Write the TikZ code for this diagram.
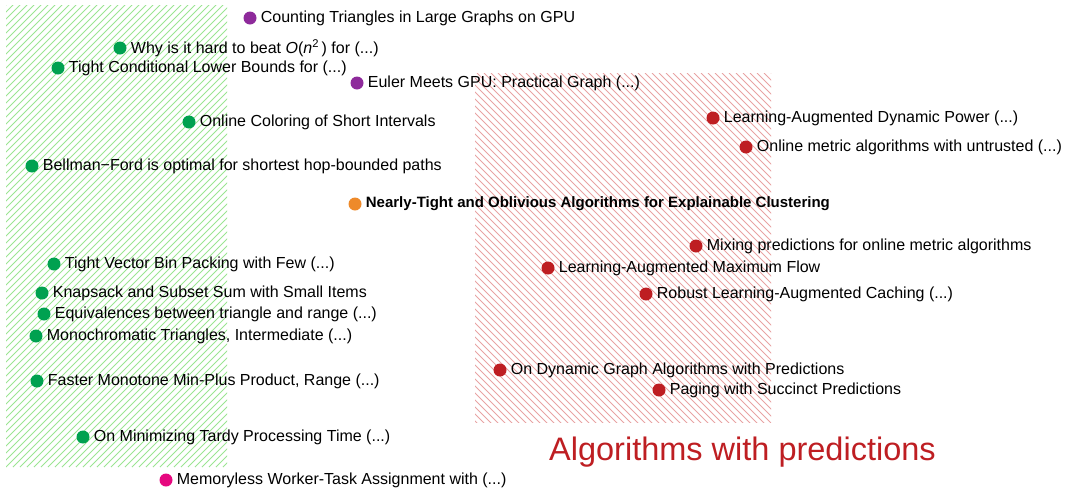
\documentclass[tikz,border=0pt]{standalone}
\usepackage{fontspec}
\setmainfont{Liberation Sans}
\definecolor{grn}{HTML}{00A150}
\definecolor{prp}{HTML}{8E2A9B}
\definecolor{rdd}{HTML}{BE1E22}
\definecolor{org}{HTML}{EE8A2A}
\definecolor{mag}{HTML}{E6087F}
\definecolor{grnhatch}{HTML}{9BE592}
\definecolor{rdhatch}{HTML}{E8A3A3}
\tikzset{
  dot/.style={circle,fill=#1,inner sep=0pt,minimum size=13pt},
  ptitle/.style={anchor=west,inner sep=0pt,font=\fontsize{16}{18}\selectfont},
  ghatch/.style={grnhatch,line width=0.9pt},
  rhatch/.style={rdhatch,line width=0.8pt}
}
\newcommand\paperdot[6]{%
  \node[dot=#2] (#1) at (#3,#4) {};
  \node[ptitle,#6] (#1t) at ([xshift=4pt]#1.east) {#5};}
\begin{document}
\begin{tikzpicture}[x=1pt,y=-1pt]
\useasboundingbox (0,0) rectangle (1066,488);
% green hatched band
\begin{scope}
  \clip (6,5) rectangle (227,467);
  \foreach \a in {-470,-463,...,230} \draw[ghatch] (\a,467) -- ++(470,-470);
\end{scope}
% red hatched band
\begin{scope}
  \clip (475,73) rectangle (771,422);
  \foreach \a in {120,127,...,780} \draw[rhatch] (\a,73) -- ++(360,360);
\end{scope}
\paperdot{p1}{prp}{250}{18}{Counting Triangles in Large Graphs on GPU}{}
\paperdot{p2}{grn}{120}{48}{Why is it hard to beat \textit{O}(\textit{n}\textsuperscript{2}\,) for (...)}{}
\paperdot{p3}{grn}{58}{68}{Tight Conditional Lower Bounds for (...)}{}
\paperdot{p4}{prp}{357}{83}{Euler Meets GPU: Practical Graph (...)}{}
\paperdot{p5}{grn}{189}{122}{Online Coloring of Short Intervals}{}
\paperdot{p6}{grn}{32}{166}{Bellman{\textminus}Ford is optimal for shortest hop-bounded paths}{}
\paperdot{p7}{org}{355}{204}{\fontsize{15}{17}\selectfont\bfseries Nearly-Tight and Oblivious Algorithms for Explainable Clustering}{}
\paperdot{p8}{rdd}{713}{118}{Learning-Augmented Dynamic Power (...)}{}
\paperdot{p9}{rdd}{746}{147}{Online metric algorithms with untrusted (...)}{}
\paperdot{p10}{rdd}{696}{246}{Mixing predictions for online metric algorithms}{}
\paperdot{p11}{rdd}{548}{268}{Learning-Augmented Maximum Flow}{}
\paperdot{p12}{rdd}{646}{294}{Robust Learning-Augmented Caching (...)}{}
\paperdot{p13}{grn}{54}{264}{Tight Vector Bin Packing with Few (...)}{}
\paperdot{p14}{grn}{42}{293}{Knapsack and Subset Sum with Small Items}{}
\paperdot{p15}{grn}{44}{314}{Equivalences between triangle and range (...)}{}
\paperdot{p16}{grn}{36}{336}{Monochromatic Triangles, Intermediate (...)}{}
\paperdot{p17}{grn}{37}{381}{Faster Monotone Min-Plus Product, Range (...)}{}
\paperdot{p18}{rdd}{500}{370}{On Dynamic Graph Algorithms with Predictions}{}
\paperdot{p19}{rdd}{659}{390}{Paging with Succinct Predictions}{}
\paperdot{p20}{grn}{83}{437}{On Minimizing Tardy Processing Time (...)}{}
\paperdot{p21}{mag}{166}{480}{Memoryless Worker-Task Assignment with (...)}{}
\node[anchor=west,inner sep=0pt,text=rdd,font=\fontsize{32.5}{36}\selectfont] (lbl) at (549,452) {Algorithms with predictions};
\end{tikzpicture}
\end{document}
